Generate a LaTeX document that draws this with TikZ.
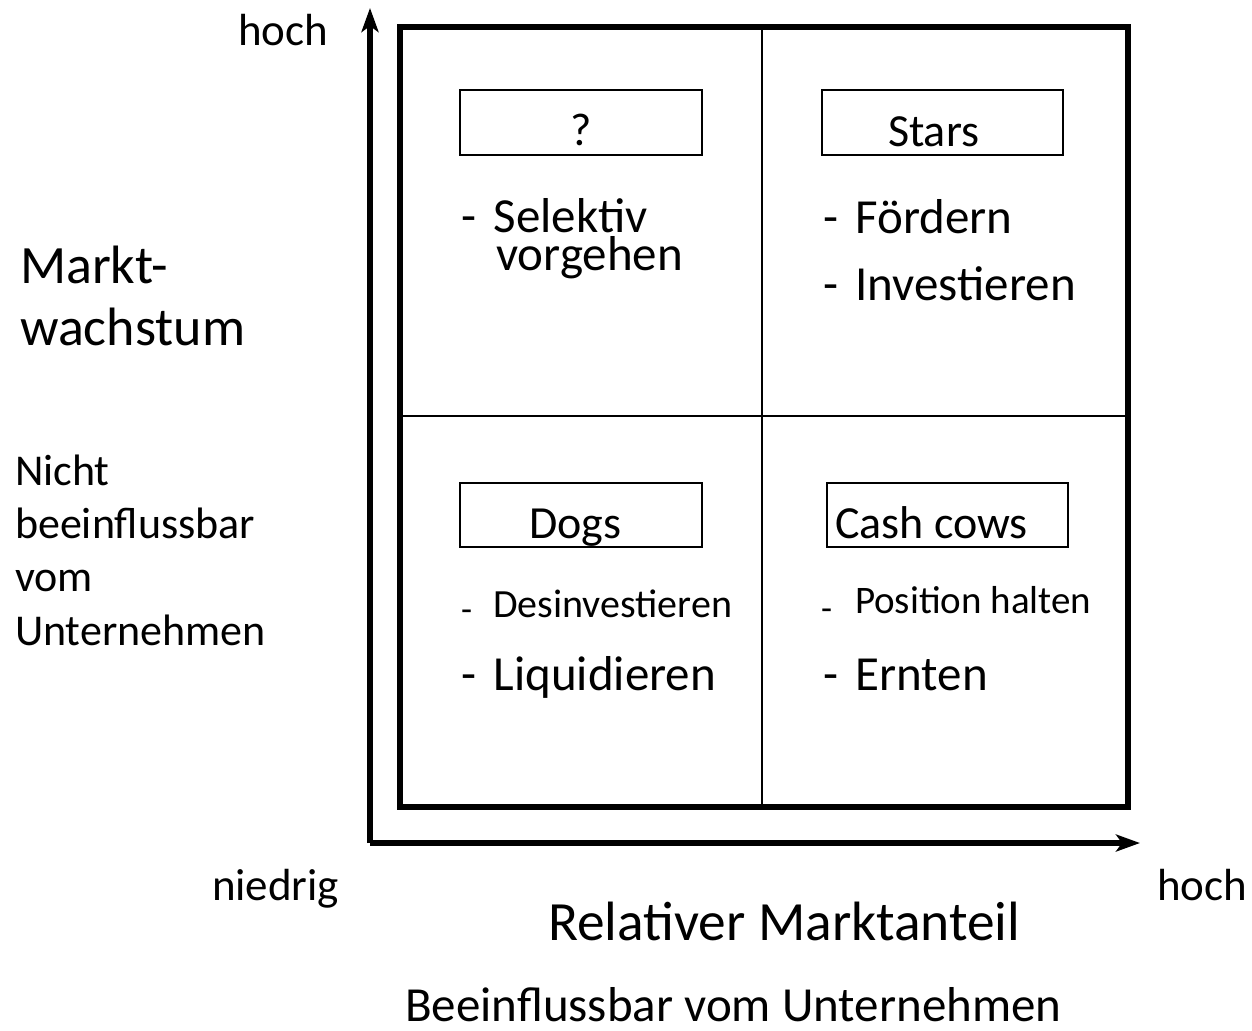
\documentclass[tikz,border=0pt]{standalone}
\usepackage{fontspec}
\setmainfont{Carlito}
\usetikzlibrary{arrows.meta}
\newcommand{\fsz}[1]{\fontsize{#1}{#1}\selectfont}
\newcommand{\itm}{-\hspace{0.36em}}
\begin{document}
\begin{tikzpicture}[x=0.5pt,y=-0.5pt,
  txt/.style={inner sep=0pt,outer sep=0pt,anchor=base west},
  lbox/.style={draw,line width=1.2pt,inner sep=0pt},
  axis/.style={line width=2.6pt,-{Stealth[length=12pt,width=8.5pt,inset=3pt]}},
  frame/.style={line width=2.6pt},
  divider/.style={line width=1pt}]
\useasboundingbox (0,0) rectangle (1252,1030);
% axes
\coordinate (O) at (370,843);
\coordinate (ytip) at (370,8);
\coordinate (xtip) at (1140,843);
\draw[axis] (O) -- (ytip);
\draw[axis] (O) -- (xtip);
% matrix frame
\coordinate (tl) at (400,27);
\coordinate (br) at (1128,807);
\coordinate (vt) at (762,27);
\coordinate (vb) at (762,807);
\coordinate (hl) at (400,416);
\coordinate (hr) at (1128,416);
\draw[divider] (vt) -- (vb);
\draw[divider] (hl) -- (hr);
\draw[frame] (tl) rectangle (br);
% label boxes
\node[lbox,minimum width=121pt,minimum height=32.5pt] (qbox) at (581,122.5) {};
\node[lbox,minimum width=120.5pt,minimum height=32.5pt] (sbox) at (942.5,122.5) {};
\node[lbox,minimum width=121pt,minimum height=32pt] (dbox) at (581,515) {};
\node[lbox,minimum width=120.5pt,minimum height=32pt] (cbox) at (947.5,515) {};
% box texts
\node[txt,anchor=base] (q) at (581,145) {\fsz{23}?};
\node[txt] (stars) at (888,146) {\fsz{23}Stars};
\node[txt] (dogs) at (529,538) {\fsz{23}Dogs};
\node[txt] (cash) at (835,538) {\fsz{23}Cash cows};
% quadrant items
\node[txt] (sel) at (461,232) {\fsz{24.5}\itm Selektiv};
\node[txt] (vor) at (496,270) {\fsz{24.5}vorgehen};
\node[txt] (foe) at (823,233) {\fsz{24.5}\itm Fördern};
\node[txt] (inv) at (823,300) {\fsz{24.5}\itm Investieren};
\node[txt] (ddash) at (461,621) {\fsz{18}-};
\node[txt] (des) at (493,617) {\fsz{20}Desinvestieren};
\node[txt] (liq) at (461,690) {\fsz{24.5}\itm Liquidieren};
\node[txt] (pdash) at (821,620) {\fsz{18}-};
\node[txt] (pos) at (855,613) {\fsz{19.5}Position halten};
\node[txt] (ern) at (823,690) {\fsz{24.5}\itm Ernten};
% axis labels
\node[txt] (hochy) at (238,45) {\fsz{22.5}hoch};
\node[txt] (mw1) at (20,283) {\fsz{27}Markt-};
\node[txt] (mw2) at (20,345) {\fsz{27}wachstum};
\node[txt] (n1) at (15,485) {\fsz{22}Nicht};
\node[txt] (n2) at (15,538) {\fsz{22}beeinflussbar};
\node[txt] (n3) at (15,591) {\fsz{22}vom};
\node[txt] (n4) at (15,645) {\fsz{22}Unternehmen};
\node[txt] (nied) at (212,900) {\fsz{22.5}niedrig};
\node[txt] (hochx) at (1157,900) {\fsz{22.5}hoch};
\node[txt] (rel) at (548,940) {\fsz{27.7}Relativer Marktanteil};
\node[txt] (bee) at (405,1021) {\fsz{24.5}Beeinflussbar vom Unternehmen};
\end{tikzpicture}
\end{document}
